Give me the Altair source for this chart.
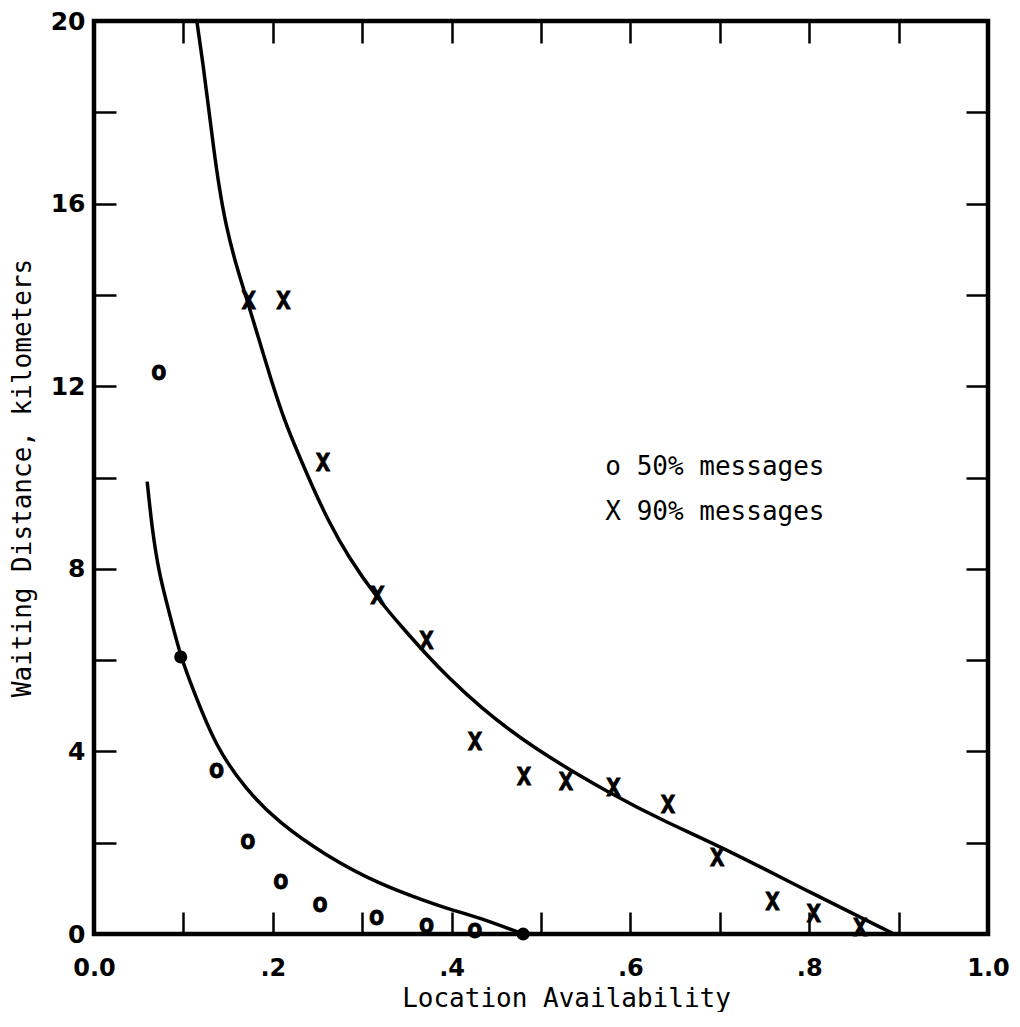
import altair as alt
import pandas as pd

# ---------------- data ----------------
# 50% messages: open "o" observations
o50_x = [0.0725, 0.137, 0.172, 0.209, 0.253, 0.316, 0.372, 0.426]
o50_y = [12.31, 3.59, 2.04, 1.16, 0.66, 0.37, 0.19, 0.08]
# solid dots lying on the 50% curve
dot_x = [0.097, 0.48]
dot_y = [6.07, 0.0]
# 90% messages: "X" observations
x90_x = [0.173, 0.212, 0.256, 0.317, 0.372, 0.426, 0.481, 0.528, 0.581,
         0.642, 0.697, 0.759, 0.805, 0.857]
x90_y = [13.84, 13.84, 10.30, 7.38, 6.40, 4.18, 3.42, 3.30, 3.18,
         2.80, 1.65, 0.67, 0.42, 0.12]
# fitted curves
c50_x = [0.0595, 0.065, 0.0725, 0.084, 0.097, 0.1135, 0.136, 0.169, 0.206,
         0.259, 0.318, 0.374, 0.396, 0.43, 0.48]
c50_y = [9.91, 8.87, 7.92, 7.05, 6.06, 5.22, 4.12, 3.18, 2.45,
         1.72, 1.10, 0.70, 0.55, 0.37, 0.0]
c90_x = [0.115, 0.1223, 0.1283, 0.1339, 0.1397, 0.1475, 0.1592, 0.1709,
         0.1844, 0.1978, 0.2123, 0.2291, 0.2441, 0.2626, 0.2838, 0.3173,
         0.3464, 0.3732, 0.396, 0.43, 0.487, 0.581, 0.64, 0.707, 0.801, 0.895]
c90_y = [20.0, 19.01, 18.07, 17.20, 16.39, 15.52, 14.63, 13.91,
         13.03, 12.16, 11.28, 10.49, 9.81, 9.03, 8.28, 7.34,
         6.68, 6.09, 5.63, 5.0, 4.12, 3.03, 2.45, 1.86, 0.91, 0.0]
# legend annotation
legend_text = ["o 50% messages", "X 90% messages"]
legend_x = [0.572, 0.572]
legend_y = [10.23, 9.24]
# axes
x_tick_values = [0.0, 0.1, 0.2, 0.3, 0.4, 0.5, 0.6, 0.7, 0.8, 0.9, 1.0]
x_label_values = [0.0, 0.2, 0.4, 0.6, 0.8, 1.0]
y_tick_values = [0, 2, 4, 6, 8, 10, 12, 14, 16, 18, 20]
y_label_values = [0, 4, 8, 12, 16, 20]

MONO = "DejaVu Sans Mono"
BOLD = "DejaVu Sans"

o50 = pd.DataFrame({"x": o50_x, "y": o50_y})
dots = pd.DataFrame({"x": dot_x, "y": dot_y})
x90 = pd.DataFrame({"x": x90_x, "y": x90_y})
c50 = pd.DataFrame({"x": c50_x, "y": c50_y})
c90 = pd.DataFrame({"x": c90_x, "y": c90_y})
leg = pd.DataFrame({"x": legend_x, "y": legend_y, "t": legend_text})

xs = alt.Scale(domain=[0, 1], nice=False, zero=False)
ys = alt.Scale(domain=[0, 20], nice=False, zero=False)


def tick_axis(orient, values):
    return alt.Axis(orient=orient, values=values, labels=False, domain=False,
                    grid=False, ticks=True, tickSize=22, tickWidth=2.5,
                    tickColor="black", offset=-22, title=None)


x_main = alt.Axis(
    orient="bottom", values=x_label_values,
    labelExpr="datum.value == 0 ? '0.0' : (datum.value == 1 ? '1.0' : replace(format(datum.value, '.1f'), '0.', '.'))",
    ticks=False, domain=False, grid=False,
    labelFont=BOLD, labelFontSize=24, labelFontWeight="bold", labelColor="black",
    labelPadding=22, labelBaseline="top", labelFlush=False, labelOverlap=False,
    title="Location Availability", titleFont=MONO, titleFontSize=26,
    titleFontWeight="normal", titleColor="black", titleX=472, titleY=64,
    titleAlign="center", titleBaseline="middle", titleAngle=0)

y_main = alt.Axis(
    orient="left", values=y_label_values, format="d",
    ticks=False, domain=False, grid=False,
    labelFont=BOLD, labelFontSize=25, labelFontWeight="bold", labelColor="black",
    labelPadding=9, labelFlush=False, labelOverlap=False,
    title="Waiting Distance, kilometers", titleFont=MONO, titleFontSize=26,
    titleFontWeight="normal", titleColor="black", titleX=-72, titleY=456.5,
    titleAngle=270, titleAlign="center", titleBaseline="middle")

ticks_bl = alt.Chart(dots).mark_point(opacity=0).encode(
    x=alt.X("x:Q", scale=xs, axis=tick_axis("bottom", x_tick_values)),
    y=alt.Y("y:Q", scale=ys, axis=tick_axis("left", y_tick_values)),
)
ticks_tr = alt.Chart(dots).mark_point(opacity=0).encode(
    x=alt.X("x:Q", scale=xs, axis=tick_axis("top", x_tick_values)),
    y=alt.Y("y:Q", scale=ys, axis=tick_axis("right", y_tick_values)),
)

line90 = alt.Chart(c90).mark_line(color="black", strokeWidth=3.5, interpolate="basis").encode(
    x=alt.X("x:Q", scale=xs, axis=x_main),
    y=alt.Y("y:Q", scale=ys, axis=y_main),
)
line50 = alt.Chart(c50).mark_line(color="black", strokeWidth=3.5, interpolate="basis").encode(
    x=alt.X("x:Q", scale=xs, axis=None),
    y=alt.Y("y:Q", scale=ys, axis=None),
)
o_marks = alt.Chart(o50).mark_text(text="o", font=MONO, fontWeight="bold", fontSize=26,
                                   align="center", baseline="middle", color="black",
                                   stroke="black", strokeWidth=0.8).encode(
    x=alt.X("x:Q", scale=xs, axis=None),
    y=alt.Y("y:Q", scale=ys, axis=None),
)
x_marks = alt.Chart(x90).mark_text(text="X", font=MONO, fontWeight="bold", fontSize=24,
                                   align="center", baseline="middle", color="black",
                                   stroke="black", strokeWidth=0.8).encode(
    x=alt.X("x:Q", scale=xs, axis=None),
    y=alt.Y("y:Q", scale=ys, axis=None),
)
dot_marks = alt.Chart(dots).mark_point(filled=True, color="black", opacity=1, size=170, shape="circle").encode(
    x=alt.X("x:Q", scale=xs, axis=None),
    y=alt.Y("y:Q", scale=ys, axis=None),
)
legend = alt.Chart(leg).mark_text(font=MONO, fontSize=26, align="left", baseline="middle",
                                  color="black").encode(
    x=alt.X("x:Q", scale=xs, axis=None),
    y=alt.Y("y:Q", scale=ys, axis=None),
    text="t:N",
)

chart = alt.layer(
    ticks_bl, ticks_tr, line90, line50, o_marks, x_marks, dot_marks, legend
).resolve_axis(
    x="independent", y="independent"
).properties(
    width=894, height=913,
    autosize=alt.AutoSizeParams(type="none"),
    padding={"left": 86, "top": 13, "right": 23, "bottom": 78},
    background="white",
).configure_view(
    stroke="black", strokeWidth=4.5
)

chart.save("out.html", embed_options={"renderer": "svg", "actions": False})
